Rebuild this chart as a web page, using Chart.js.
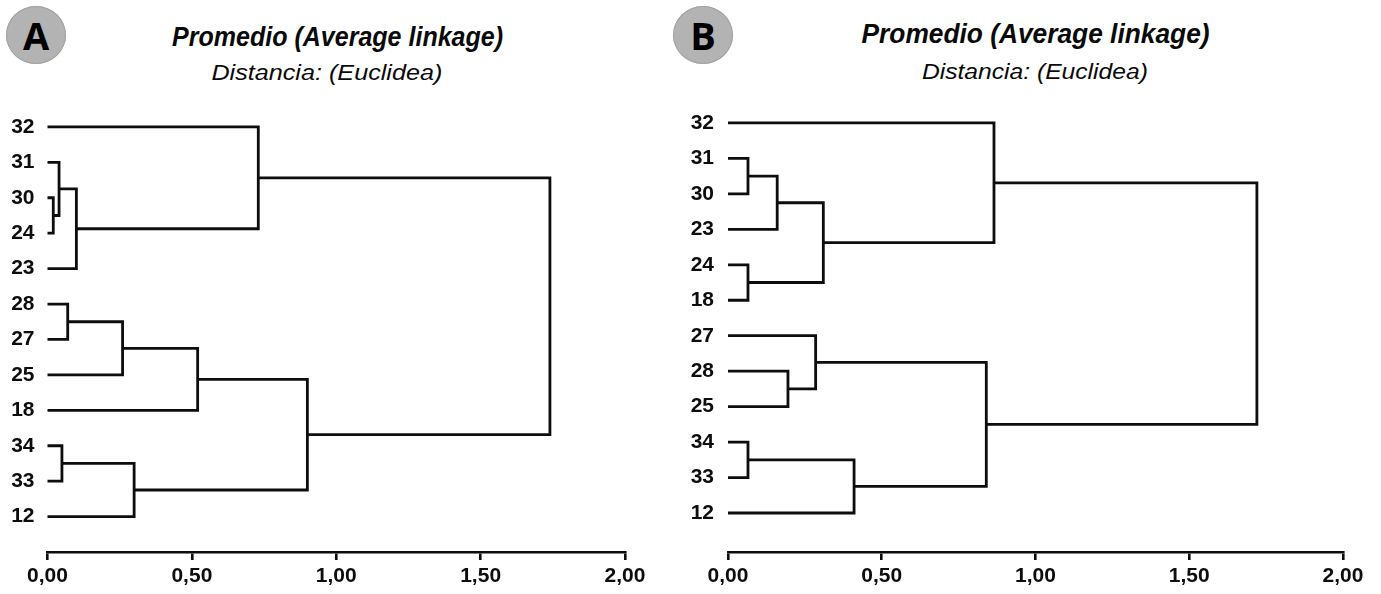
<!DOCTYPE html>
<html>
<head>
<meta charset="utf-8">
<script src="https://cdn.jsdelivr.net/npm/chart.js@4.4.1/dist/chart.umd.min.js"></script>
<style>
  html, body { margin:0; padding:0; background:#fff; width:1381px; height:594px; overflow:hidden; }
  canvas { position:absolute; top:0; }
  #cA { left:0; }
  #cB { left:680px; }
  .badge { position:absolute; width:60px; height:58px; border-radius:50%; background:#b3b3b3; box-shadow: inset 0 0 0 1px #a2a2a2;
           display:flex; align-items:center; justify-content:center; font-family:"Open Sans", sans-serif; font-weight:700; font-size:38px; color:#000; line-height:1; }
  .tl { position:absolute; width:600px; text-align:center; white-space:nowrap; line-height:1; color:#0a0a0a; font-family:"Liberation Sans", Arial, sans-serif; }
  .tl span { display:inline-block; transform-origin:center; }
  .main { font-weight:bold; font-style:italic; font-size:27px; }
  .sub { font-style:italic; font-size:22px; }
</style>
</head>
<body>
<div class="badge" style="left:6px; top:6px;">A</div>
<div class="badge" style="left:673px; top:6px;">B</div>
<div class="tl main" style="left:38px; top:24px;"><span data-w="331">Promedio (Average linkage)</span></div>
<div class="tl sub" style="left:27px; top:62px;"><span data-w="231">Distancia: (Euclidea)</span></div>
<div class="tl main" style="left:736px; top:21px;"><span data-w="348">Promedio (Average linkage)</span></div>
<div class="tl sub" style="left:735px; top:61px;"><span data-w="226">Distancia: (Euclidea)</span></div>
<canvas id="cA" width="690" height="594"></canvas>
<canvas id="cB" width="701" height="594"></canvas>
<script>
// ---- Data ----
const tickValues = [0, 0.5, 1, 1.5, 2];

// Panel A: leaf order (top to bottom) and average-linkage merges
const leavesA = ['32','31','30','24','23','28','27','25','18','34','33','12'];
const mergeLeftA  = [2, 1, 13, 0, 5, 16, 17, 9, 19, 18, 15];
const mergeRightA = [3, 12, 4, 14, 6, 7, 8, 10, 11, 20, 21];
const heightsA    = [0.02, 0.04, 0.10, 0.73, 0.07, 0.26, 0.52, 0.05, 0.30, 0.90, 1.74];

// Panel B
const leavesB = ['32','31','30','23','24','18','27','28','25','34','33','12'];
const mergeLeftB  = [1, 12, 4, 13, 0, 7, 6, 9, 19, 18, 16];
const mergeRightB = [2, 3, 5, 14, 15, 8, 17, 10, 11, 20, 21];
const heightsB    = [0.065, 0.16, 0.065, 0.31, 0.865, 0.195, 0.285, 0.065, 0.41, 0.84, 1.72];

// ---- Build dendrogram links from linkage ----
function buildLinks(leaves, L, R, H) {
  const pos = leaves.map((_, i) => ({ x: 0, y: i }));
  const ds = [];
  for (let k = 0; k < L.length; k++) {
    const a = pos[L[k]], b = pos[R[k]], h = H[k];
    ds.push({
      data: [{ x: a.x, y: a.y }, { x: h, y: a.y }, { x: h, y: b.y }, { x: b.x, y: b.y }],
      borderColor: '#0d0d0d', borderWidth: 2.8, pointRadius: 0, tension: 0, fill: false,
      borderJoinStyle: 'miter', borderCapStyle: 'butt', clip: false
    });
    pos.push({ x: h, y: (a.y + b.y) / 2 });
  }
  return ds;
}

const fmt = v => Number(v).toFixed(2).replace('.', ',');
const tickFont = { family: '"Liberation Sans", Arial, sans-serif', size: 21, weight: 'bold' };

function makeChart(id, leaves, L, R, H, o) {
  new Chart(document.getElementById(id), {
    type: 'line',
    data: { datasets: buildLinks(leaves, L, R, H) },
    options: {
      responsive: false, animation: false, events: [],
      layout: { padding: { top: o.top, right: o.right, left: 0, bottom: 0 } },
      plugins: { legend: { display: false }, tooltip: { enabled: false }, title: { display: false } },
      scales: {
        x: {
          type: 'linear', min: 0, max: 2,
          afterBuildTicks: ax => { ax.ticks = tickValues.map(v => ({ value: v })); },
          afterFit: ax => { ax.height = o.xh; },
          ticks: { callback: v => fmt(v), color: '#0d0d0d', padding: 4, maxRotation: 0, autoSkip: false, font: tickFont },
          grid: { display: true, drawOnChartArea: false, drawTicks: true, tickLength: 8, color: '#0d0d0d', lineWidth: 2.6 },
          border: { display: true, color: '#0d0d0d', width: 2.6 }
        },
        y: {
          type: 'linear', reverse: true, min: -1, max: o.ymax,
          afterBuildTicks: ax => { ax.ticks = leaves.map((_, i) => ({ value: i })); },
          afterFit: ax => { ax.width = o.yw; },
          ticks: { callback: v => leaves[v], color: '#0d0d0d', padding: o.ypad, autoSkip: false, font: tickFont },
          grid: { display: false, drawTicks: false },
          border: { display: false }
        }
      }
    }
  });
}

makeChart('cA', leavesA, mergeLeftA, mergeRightA, heightsA, { top: 91.5, right: 65, xh: 42, ymax: 12, yw: 47.5, ypad: 13 });
makeChart('cB', leavesB, mergeLeftB, mergeRightB, heightsB, { top: 87.5, right: 38, xh: 42, ymax: 12.1, yw: 48, ypad: 14 });

// fit title widths to reference
document.querySelectorAll('.tl span').forEach(el => {
  const w = el.getBoundingClientRect().width;
  el.style.transform = 'scaleX(' + (+el.dataset.w / w) + ')';
});
</script>
</body>
</html>
